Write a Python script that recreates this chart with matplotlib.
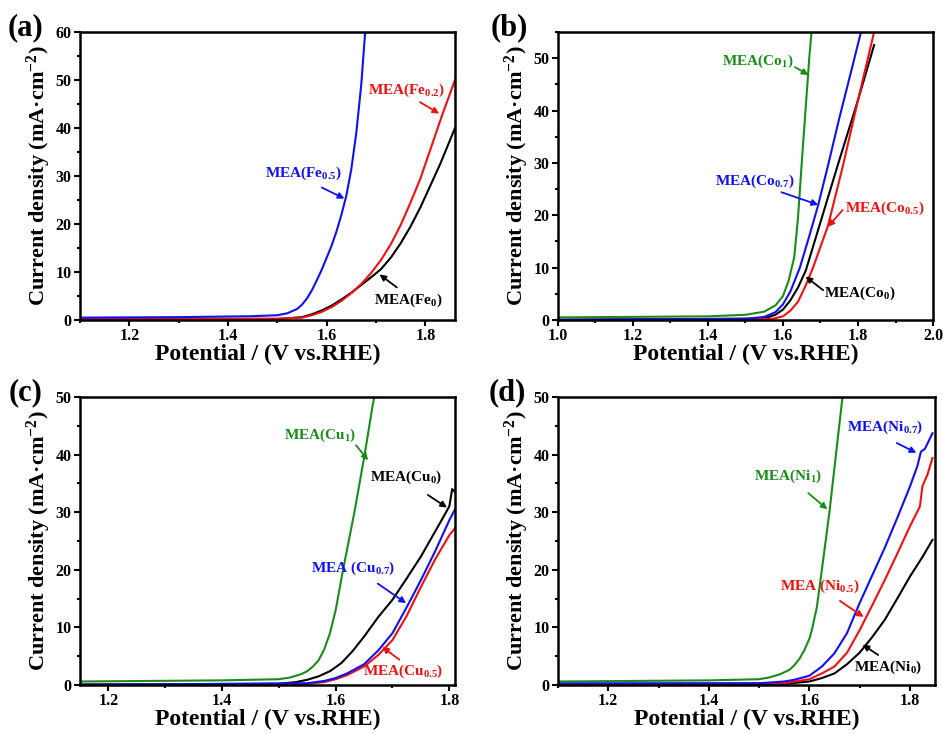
import matplotlib
matplotlib.use("Agg")
from matplotlib import pyplot as plt
from matplotlib.ticker import AutoMinorLocator, MultipleLocator

plt.rcParams["font.family"] = ["Liberation Serif", "DejaVu Serif"]
plt.rcParams["font.weight"] = "bold"
plt.rcParams["mathtext.fontset"] = "custom"
plt.rcParams["mathtext.rm"] = "Liberation Serif:bold"
plt.rcParams["mathtext.it"] = "Liberation Serif:bold:italic"
plt.rcParams["mathtext.bf"] = "Liberation Serif:bold"

# ---- (a) Fe ----
fe05_x = [1.10, 1.30, 1.45, 1.50, 1.52, 1.54, 1.55, 1.56, 1.57, 1.58, 1.59, 1.60, 1.61,
          1.62, 1.63, 1.64, 1.65, 1.66, 1.67, 1.678]
fe05_y = [0.5, 0.6, 0.8, 1.0, 1.4, 2.3, 3.2, 4.5, 6.2, 8.3, 10.5, 13.0, 15.5,
          18.5, 22.0, 26.0, 31.5, 39.0, 49.0, 60.0]
fe02_x = [1.10, 1.50, 1.55, 1.57, 1.59, 1.61, 1.63, 1.65, 1.67, 1.69, 1.71, 1.73, 1.75,
          1.77, 1.79, 1.81, 1.835, 1.86]
fe02_y = [0.2, 0.3, 0.5, 1.0, 1.7, 2.7, 4.0, 5.6, 7.5, 9.8, 12.5, 15.8, 19.8,
          24.5, 29.5, 35.5, 43.0, 50.0]
fe0_x = [1.10, 1.50, 1.55, 1.57, 1.59, 1.61, 1.63, 1.65, 1.67, 1.69, 1.71, 1.73, 1.75,
         1.77, 1.79, 1.81, 1.83, 1.86]
fe0_y = [0.1, 0.2, 0.6, 1.2, 2.0, 3.0, 4.3, 5.7, 7.3, 8.9, 10.6, 13.0, 16.0,
         19.5, 23.5, 28.0, 32.5, 40.0]

# ---- (b) Co ----
co1_x = [1.00, 1.40, 1.50, 1.55, 1.58, 1.60, 1.615, 1.63, 1.64, 1.65, 1.66, 1.67, 1.676]
co1_y = [0.5, 0.7, 1.0, 1.6, 2.8, 4.6, 7.5, 12.0, 19.5, 30.0, 40.0, 50.0, 55.0]
co07_x = [1.00, 1.50, 1.55, 1.58, 1.60, 1.62, 1.645, 1.67, 1.694, 1.72, 1.75, 1.78, 1.808]
co07_y = [0.1, 0.2, 0.6, 1.5, 3.0, 5.5, 10.0, 16.0, 22.0, 29.5, 38.5, 47.0, 55.0]
co05_x = [1.00, 1.57, 1.60, 1.62, 1.64, 1.66, 1.68, 1.70, 1.72, 1.76, 1.80, 1.843]
co05_y = [0.0, 0.2, 0.7, 1.8, 3.5, 6.5, 10.0, 14.0, 18.0, 29.5, 42.0, 55.0]
co0_x = [1.00, 1.55, 1.58, 1.60, 1.62, 1.64, 1.661, 1.70, 1.75, 1.80, 1.843]
co0_y = [0.0, 0.3, 1.0, 2.0, 3.8, 6.2, 9.5, 18.7, 30.5, 42.0, 52.5]

# ---- (c) Cu ----
cu1_x = [1.15, 1.40, 1.50, 1.52, 1.54, 1.55, 1.56, 1.57, 1.58, 1.59, 1.60, 1.613, 1.623,
         1.633, 1.651, 1.665, 1.668]
cu1_y = [0.6, 0.8, 1.0, 1.3, 1.9, 2.4, 3.2, 4.3, 6.2, 9.0, 13.0, 20.0, 25.0,
         30.0, 40.0, 48.5, 50.0]
cu0_x = [1.15, 1.50, 1.53, 1.55, 1.57, 1.59, 1.61, 1.63, 1.65, 1.675, 1.70, 1.725, 1.75,
         1.78, 1.80, 1.805, 1.81]
cu0_y = [0.1, 0.2, 0.5, 0.9, 1.5, 2.4, 3.8, 5.9, 8.4, 11.8, 14.8, 18.5, 22.3,
         27.5, 31.0, 34.0, 33.5]
cu07_x = [1.15, 1.55, 1.58, 1.60, 1.62, 1.65, 1.675, 1.70, 1.725, 1.75, 1.775, 1.80, 1.81]
cu07_y = [0.0, 0.3, 0.7, 1.2, 2.0, 3.6, 6.0, 9.0, 13.5, 18.2, 23.2, 28.6, 30.5]
cu05_x = [1.15, 1.55, 1.58, 1.60, 1.62, 1.65, 1.675, 1.70, 1.725, 1.75, 1.775, 1.80, 1.81]
cu05_y = [0.0, 0.2, 0.5, 1.0, 1.7, 3.2, 5.2, 7.8, 12.0, 17.0, 21.8, 26.0, 27.2]

# ---- (d) Ni ----
ni1_x = [1.10, 1.40, 1.50, 1.52, 1.54, 1.56, 1.57, 1.58, 1.59, 1.60, 1.605, 1.615, 1.625,
         1.64, 1.653, 1.666]
ni1_y = [0.6, 0.8, 1.0, 1.3, 1.8, 2.6, 3.4, 4.5, 6.0, 8.0, 9.5, 13.5, 20.0,
         30.0, 40.0, 50.0]
ni07_x = [1.10, 1.50, 1.55, 1.57, 1.60, 1.625, 1.65, 1.675, 1.70, 1.725, 1.75, 1.775, 1.80,
          1.815, 1.822, 1.83, 1.845]
ni07_y = [0.3, 0.3, 0.6, 0.9, 1.6, 3.2, 5.5, 9.0, 14.2, 19.0, 23.8, 29.0, 34.4,
          38.0, 40.5, 41.0, 43.7]
ni05_x = [1.10, 1.55, 1.60, 1.625, 1.65, 1.675, 1.70, 1.725, 1.75, 1.775, 1.80, 1.82,
          1.825, 1.835, 1.845]
ni05_y = [0.1, 0.3, 1.0, 2.0, 3.2, 5.6, 9.5, 13.8, 18.2, 22.8, 27.5, 31.0, 34.5, 36.5, 39.4]
ni0_x = [1.10, 1.55, 1.60, 1.625, 1.65, 1.675, 1.70, 1.725, 1.75, 1.775, 1.80, 1.825, 1.845]
ni0_y = [0.0, 0.2, 0.6, 1.2, 2.0, 3.6, 5.6, 8.3, 11.3, 15.0, 18.8, 22.2, 25.2]

GREEN = "#1a8c1a"
BLUE = "#1010f0"
RED = "#f01010"
BLACK = "black"

fig = plt.figure(figsize=(9.43, 7.34), dpi=100)


def setup(ax, xlim, ylim, xmaj, ymaj, letter, lx):
    ax.set_xlim(*xlim)
    ax.set_ylim(*ylim)
    ax.xaxis.set_major_locator(MultipleLocator(xmaj))
    ax.yaxis.set_major_locator(MultipleLocator(ymaj))
    ax.xaxis.set_minor_locator(AutoMinorLocator(2))
    ax.yaxis.set_minor_locator(AutoMinorLocator(2))
    ax.tick_params(which="major", direction="out", length=4, width=1.5, labelsize=11.5, pad=2)
    ax.tick_params(which="minor", direction="out", length=2.5, width=1.5)
    for s in ax.spines.values():
        s.set_linewidth(1.8)
    ax.set_xlabel("Potential / (V vs.RHE)", fontsize=17, fontweight="bold", labelpad=0)
    ax.set_ylabel("Current density (mA·cm$^{-2}$)", fontsize=16, fontweight="bold", labelpad=2)
    ax.text(lx, 1.015, letter, transform=ax.transAxes, fontsize=22, fontweight="bold",
            ha="center", va="center")


def note(ax, text, color, xy, tail, pos):
    ax.annotate("", xy=xy, xytext=tail,
                arrowprops=dict(arrowstyle="-|>", color=color, lw=1.3, mutation_scale=9,
                                shrinkA=0, shrinkB=0))
    ax.text(pos[0], pos[1], text, color=color, fontsize=11, fontweight="bold",
            ha="center", va="center")


# (a)
ax = fig.add_axes([0.0848, 0.564, 0.3977, 0.3924])
ax.plot(fe0_x, fe0_y, color=BLACK, lw=1.5)
ax.plot(fe02_x, fe02_y, color=RED, lw=1.5)
ax.plot(fe05_x, fe05_y, color=BLUE, lw=1.5)
setup(ax, (1.1, 1.86), (0, 60), 0.2, 10, "(a)", -0.145)
note(ax, "MEA(Fe$_{\\mathrm{0.5}}$)", BLUE, (1.636, 25.3), (1.590, 27.6), (1.553, 30.5))
note(ax, "MEA(Fe$_{\\mathrm{0.2}}$)", RED, (1.828, 43.0), (1.789, 45.4), (1.762, 47.9))
note(ax, "MEA(Fe$_{\\mathrm{0}}$)", BLACK, (1.707, 9.5), (1.742, 6.8), (1.766, 4.2))

# (b)
ax = fig.add_axes([0.5917, 0.564, 0.3977, 0.3924])
ax.plot(co0_x, co0_y, color=BLACK, lw=1.5)
ax.plot(co05_x, co05_y, color=RED, lw=1.5)
ax.plot(co07_x, co07_y, color=BLUE, lw=1.5)
ax.plot(co1_x, co1_y, color=GREEN, lw=1.5)
setup(ax, (1.0, 2.0), (0, 55), 0.2, 10, "(b)", -0.131)
note(ax, "MEA(Co$_{\\mathrm{1}}$)", GREEN, (1.668, 46.8), (1.632, 48.3), (1.534, 49.4))
note(ax, "MEA(Co$_{\\mathrm{0.7}}$)", BLUE, (1.694, 22.0), (1.596, 24.4), (1.525, 26.4))
note(ax, "MEA(Co$_{\\mathrm{0.5}}$)", RED, (1.720, 17.8), (1.759, 21.0), (1.871, 21.3))
note(ax, "MEA(Co$_{\\mathrm{0}}$)", BLACK, (1.660, 8.3), (1.707, 5.7), (1.805, 5.1))

# (c)
ax = fig.add_axes([0.0848, 0.0668, 0.3977, 0.3924])
ax.plot(cu0_x, cu0_y, color=BLACK, lw=1.5)
ax.plot(cu05_x, cu05_y, color=RED, lw=1.5)
ax.plot(cu07_x, cu07_y, color=BLUE, lw=1.5)
ax.plot(cu1_x, cu1_y, color=GREEN, lw=1.5)
setup(ax, (1.15, 1.81), (0, 50), 0.2, 10, "(c)", -0.145)
note(ax, "MEA(Cu$_{\\mathrm{1}}$)", GREEN, (1.657, 39.0), (1.636, 41.6), (1.572, 43.4))
note(ax, "MEA(Cu$_{\\mathrm{0}}$)", BLACK, (1.796, 30.8), (1.762, 33.0), (1.724, 36.1))
note(ax, "MEA (Cu$_{\\mathrm{0.7}}$)", BLUE, (1.724, 14.2), (1.674, 17.6), (1.630, 20.2))
note(ax, "MEA(Cu$_{\\mathrm{0.5}}$)", RED, (1.682, 6.6), (1.712, 4.4), (1.718, 2.3))

# (d)
ax = fig.add_axes([0.5917, 0.0668, 0.3998, 0.3924])
ax.plot(ni0_x, ni0_y, color=BLACK, lw=1.5)
ax.plot(ni05_x, ni05_y, color=RED, lw=1.5)
ax.plot(ni07_x, ni07_y, color=BLUE, lw=1.5)
ax.plot(ni1_x, ni1_y, color=GREEN, lw=1.5)
setup(ax, (1.1, 1.85), (0, 50), 0.2, 10, "(d)", -0.135)
note(ax, "MEA(Ni$_{\\mathrm{0.7}}$)", BLUE, (1.813, 40.3), (1.774, 42.0), (1.750, 44.8))
note(ax, "MEA(Ni$_{\\mathrm{1}}$)", GREEN, (1.636, 30.5), (1.598, 33.3), (1.558, 36.2))
note(ax, "MEA (Ni$_{\\mathrm{0.5}}$)", RED, (1.708, 11.8), (1.661, 14.6), (1.621, 17.1))
note(ax, "MEA(Ni$_{\\mathrm{0}}$)", BLACK, (1.706, 7.0), (1.737, 5.2), (1.757, 3.0))

fig.savefig("out.png", dpi=100)
